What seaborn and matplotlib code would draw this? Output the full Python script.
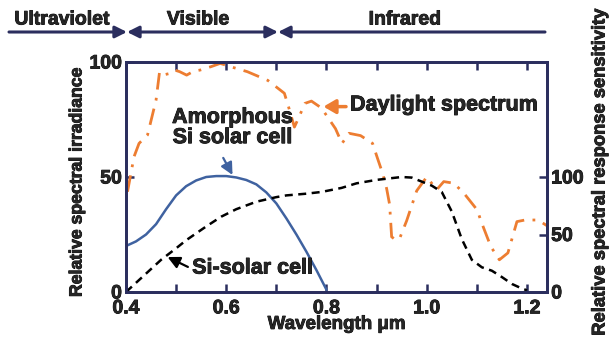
import numpy as np
import pandas as pd
import matplotlib
matplotlib.use("Agg")
import matplotlib.pyplot as plt
from matplotlib.patches import FancyArrowPatch
from matplotlib.ticker import MultipleLocator
from matplotlib.text import Text
import matplotlib.patheffects as pe
import seaborn as sns

# ---------------- data ----------------
amor_wl = [0.40, 0.42, 0.44, 0.46, 0.48, 0.50, 0.52, 0.54, 0.56, 0.58, 0.60, 0.62,
           0.64, 0.66, 0.68, 0.70, 0.72, 0.74, 0.76, 0.78, 0.80]
amor_val = [20, 22, 25, 29.5, 36, 42, 46, 48.5, 50, 50.4, 50.4, 49.8,
            48.7, 46.8, 43.3, 38.5, 32, 25, 17.5, 9.5, 1]

si_wl = [0.40, 0.43, 0.47, 0.50, 0.52, 0.56, 0.59, 0.62, 0.66, 0.70, 0.72, 0.76,
         0.79, 0.83, 0.86, 0.90, 0.93, 0.95, 0.97, 0.99, 1.01, 1.03, 1.05, 1.07,
         1.09, 1.11, 1.13, 1.15, 1.17, 1.19, 1.20]
si_val = [0, 12, 28, 38, 45, 57, 65.5, 72, 78.5, 82.5, 84, 85.5,
          87, 90.5, 94.5, 97.5, 99, 100, 99.5, 96, 92.5, 87, 70, 46,
          28, 21.5, 18.5, 13, 7, 3, 1.5]

day_wl = [0.403, 0.416, 0.426, 0.443, 0.460, 0.467, 0.477, 0.487, 0.497, 0.507,
          0.521, 0.535, 0.548, 0.570, 0.588, 0.608, 0.642, 0.683, 0.716, 0.725,
          0.736, 0.745, 0.757, 0.770, 0.790, 0.818, 0.831, 0.845, 0.868, 0.892,
          0.902, 0.912, 0.920, 0.926, 0.930, 0.938, 0.946, 0.960, 0.980, 1.000,
          1.020, 1.034, 1.054, 1.074, 1.101, 1.108, 1.128, 1.145, 1.162, 1.180,
          1.196, 1.222, 1.243]
day_val = [43.6, 58.8, 64.6, 68.3, 83.5, 95.8, 94.5, 95, 96.5, 95.8,
           94.3, 96, 96.5, 98, 99.4, 98, 95.8, 92, 86.4, 80,
           71.7, 76, 82, 83, 80, 71, 64.6, 69, 68, 64.6,
           58, 51.6, 45, 38, 24, 22.6, 23.3, 31, 44, 50,
           44.5, 48, 47.3, 43, 35.6, 31, 19.7, 14, 17, 30.6,
           31.3, 31.3, 28.4]

x_ticks = [0.4, 0.6, 0.8, 1.0, 1.2]
x_tick_labels = ["0.4", "0.6", "0.8", "1.0", "1.2"]
left_ticks = [0, 50, 100]
right_ticks = [0, 50, 100]
bands = ["Ultraviolet", "Visible", "Infrared"]

# ---------------- style ----------------
sns.set_style("ticks")
plt.rcParams["font.family"] = ["Liberation Sans", "DejaVu Sans"]
plt.rcParams["font.weight"] = "bold"

NAVY = "#2b2e5e"
ORANGE = "#ed7d31"
BLUE = "#3f62a0"

W, H = 609, 344
fig = plt.figure(figsize=(W / 100, H / 100), dpi=100)
ax = fig.add_axes([126 / W, 1 - 292 / H, (547 - 126) / W, (292 - 62) / H])
ax2 = ax.twinx()

df_amor = pd.DataFrame({"wl": amor_wl, "val": amor_val})
df_si = pd.DataFrame({"wl": si_wl, "val": si_val})
df_day = pd.DataFrame({"wl": day_wl, "val": day_val})

sns.lineplot(data=df_day, x="wl", y="val", ax=ax, color=ORANGE, lw=2.0,
             estimator=None, sort=False)
ax.lines[-1].set_dashes((6, 3, 1, 3))
sns.lineplot(data=df_amor, x="wl", y="val", ax=ax, color=BLUE, lw=1.8,
             estimator=None, sort=False)
sns.lineplot(data=df_si, x="wl", y="val", ax=ax2, color="black", lw=1.8,
             estimator=None, sort=False)
ax2.lines[-1].set_dashes((3.2, 2.2))

ax.set_xlim(0.4, 1.24)
ax.set_ylim(0, 100)
ax2.set_ylim(0, 200)

ax.set_xticks(x_ticks)
ax.set_xticklabels(x_tick_labels)
ax.xaxis.set_minor_locator(MultipleLocator(0.1))
ax.set_yticks(left_ticks)
ax2.set_yticks(right_ticks)

tick_kw = dict(direction="in", color=NAVY, width=1.8, length=6,
               labelsize=14, pad=3)
ax.tick_params(axis="x", which="both", top=True, bottom=True, **tick_kw)
ax.tick_params(axis="y", which="both", left=True, right=False, **tick_kw)
ax2.tick_params(axis="y", which="both", right=True, left=False, **tick_kw)
ax.tick_params(axis="x", pad=6)

for lab in ax.get_xticklabels() + ax.get_yticklabels() + ax2.get_yticklabels():
    lab.set_fontweight("bold")

for a in (ax, ax2):
    for s in a.spines.values():
        s.set_color(NAVY)
        s.set_linewidth(2.0)
        s.set_visible(True)

ax.set_xlabel("Wavelength μm", fontsize=13.5, fontweight="bold", labelpad=-1)
ax.set_ylabel("")
ax2.set_ylabel("")
fig.text(77 / W, 1 - 182 / H, "Relative spectral irradiance", rotation=90,
         ha="center", va="center", fontsize=12.7, fontweight="bold")
fig.text(600 / W, 1 - 172 / H, "Relative spectral response sensitivity",
         rotation=90, ha="center", va="center", fontsize=13.2, fontweight="bold")

# ---------------- annotations ----------------
ax.text(0.6125, 71.5, "Amorphous\nSi solar cell", ha="center", va="center",
        fontsize=15.5, fontweight="bold", linespacing=0.95)
ax.annotate("", xy=(0.6125, 50.9), xytext=(0.594, 58.3),
            arrowprops=dict(arrowstyle="-|>,head_length=0.6,head_width=0.3",
                            color=BLUE, lw=1.6, shrinkA=0, shrinkB=0,
                            mutation_scale=12))
ax.text(0.847, 81.3, "Daylight spectrum", ha="left", va="center",
        fontsize=15.5, fontweight="bold")
ax.annotate("", xy=(0.794, 80.6), xytext=(0.839, 80.6),
            arrowprops=dict(arrowstyle="-|>,head_length=0.6,head_width=0.35",
                            color=ORANGE, lw=2.5, shrinkA=0, shrinkB=0,
                            mutation_scale=12))
ax.text(0.532, 10.4, "Si-solar cell", ha="left", va="center",
        fontsize=15.5, fontweight="bold")
ax.annotate("", xy=(0.483, 15.2), xytext=(0.5235, 10.9),
            arrowprops=dict(arrowstyle="-|>,head_length=0.6,head_width=0.3",
                            color="black", lw=1.6, shrinkA=0, shrinkB=0,
                            mutation_scale=12))

# ---------------- top band ----------------
yb = 1 - 32 / H
xs = [9 / W, 127 / W, 278 / W, 545 / W]
styles = ["-|>", "<|-|>", "<|-"]
for i, st in enumerate(styles):
    fig.add_artist(FancyArrowPatch(
        (xs[i], yb), (xs[i + 1], yb), transform=fig.transFigure,
        arrowstyle=st + ",head_length=0.7,head_width=0.35",
        mutation_scale=10, color=NAVY, lw=2.2, shrinkA=0, shrinkB=0))
band_x = [62, 198, 405]
for bx, bl in zip(band_x, bands):
    fig.text(bx / W, 1 - 20 / H, bl, ha="center", va="center",
             fontsize=14, fontweight="bold")

# heavier strokes on all text, like the reference rendering
for t in fig.findobj(Text):
    if t.get_text():
        t.set_path_effects([pe.withStroke(linewidth=0.6, foreground="black")])

fig.savefig("out.png", dpi=100)
